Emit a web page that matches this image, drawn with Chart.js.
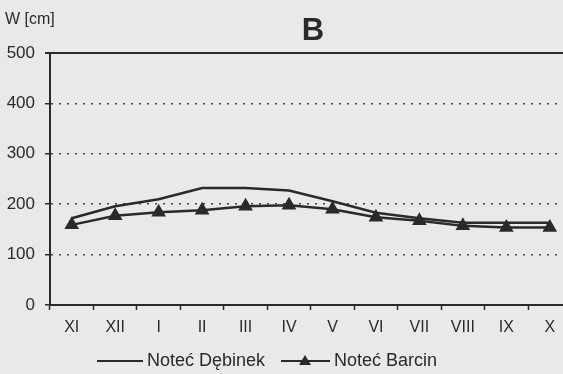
<!DOCTYPE html>
<html>
<head>
<meta charset="utf-8">
<script src="https://cdn.jsdelivr.net/npm/chart.js@4/dist/chart.umd.min.js"></script>
<style>
  html, body { margin: 0; padding: 0; background: #e9e9e9; overflow: hidden; }
  #wrap { width: 563px; height: 374px; overflow: hidden; position: relative; }
</style>
</head>
<body>
<div id="wrap">
  <canvas id="chart" width="580" height="374"></canvas>
</div>
<script>
const months = ['XI', 'XII', 'I', 'II', 'III', 'IV', 'V', 'VI', 'VII', 'VIII', 'IX', 'X']
const debinek = [172, 196, 210, 232, 232, 227, 206, 183, 172, 163, 163, 163]
const barcin = [159, 177, 184, 188, 196, 198, 190, 174, 167, 157, 154, 154]
const yTicks = [0, 100, 200, 300, 400, 500]

const ink = '#2a2a2a'
const fontFamily = '"Liberation Sans", Arial, sans-serif'

// extra text and frame pieces the stock options can't do
const decorations = {
  id: 'decorations',
  afterDraw(chart) {
    const { ctx, chartArea } = chart
    ctx.save()
    // solid top line at 500
    ctx.strokeStyle = ink
    ctx.lineWidth = 2
    ctx.beginPath()
    ctx.moveTo(chartArea.left - 5, chartArea.top)
    ctx.lineTo(chartArea.right, chartArea.top)
    ctx.stroke()

    ctx.fillStyle = ink
    ctx.textBaseline = 'middle'
    ctx.font = '16px ' + fontFamily
    ctx.fillText('W [cm]', 5, 20)

    ctx.font = 'bold 31px ' + fontFamily
    ctx.textAlign = 'center'
    ctx.fillText('B', 313, 31)

    // legend
    const ly = 361
    ctx.textAlign = 'left'
    ctx.font = '18px ' + fontFamily
    ctx.lineWidth = 2
    ctx.beginPath()
    ctx.moveTo(97, ly)
    ctx.lineTo(143, ly)
    ctx.stroke()
    ctx.fillText('Noteć Dębinek', 147, ly)

    ctx.beginPath()
    ctx.moveTo(281, ly)
    ctx.lineTo(330, ly)
    ctx.stroke()
    ctx.beginPath()
    ctx.moveTo(305, ly - 6)
    ctx.lineTo(311, ly + 4)
    ctx.lineTo(299, ly + 4)
    ctx.closePath()
    ctx.fill()
    ctx.fillText('Noteć Barcin', 334, ly)
    ctx.restore()
  },
}

new Chart(document.getElementById('chart'), {
  type: 'line',
  data: {
    labels: months,
    datasets: [
      {
        label: 'Noteć Dębinek',
        data: debinek,
        borderColor: ink,
        borderWidth: 2.5,
        pointRadius: 0,
        tension: 0,
      },
      {
        label: 'Noteć Barcin',
        data: barcin,
        borderColor: ink,
        backgroundColor: ink,
        borderWidth: 2.5,
        pointStyle: 'triangle',
        pointRadius: 6,
        pointBackgroundColor: ink,
        pointBorderColor: ink,
        tension: 0,
      },
    ],
  },
  options: {
    responsive: false,
    animation: false,
    layout: { padding: { top: 53, right: 2, left: 0, bottom: 0 } },
    plugins: {
      legend: { display: false },
      title: { display: false },
      tooltip: { enabled: false },
    },
    scales: {
      x: {
        offset: true,
        afterFit(scale) {
          scale.height = 69
        },
        grid: {
          offset: true,
          drawOnChartArea: false,
          tickLength: 5,
          tickColor: ink,
          tickWidth: 1.5,
        },
        border: { color: ink, width: 2 },
        ticks: {
          color: ink,
          padding: 8,
          maxRotation: 0,
          font: { size: 16, family: fontFamily },
        },
      },
      y: {
        min: 0,
        max: 500,
        afterFit(scale) {
          scale.width = 50
        },
        afterBuildTicks(scale) {
          scale.ticks = yTicks.map(v => ({ value: v }))
        },
        grid: {
          color: '#444',
          lineWidth: 1.5,
          tickLength: 5,
          tickColor: ink,
          tickWidth: 1.5,
          tickBorderDash: [],
        },
        border: { color: ink, width: 2, dash: [2, 6] },
        ticks: {
          color: ink,
          padding: 10,
          font: { size: 17, family: fontFamily },
        },
      },
    },
  },
  plugins: [decorations],
})
</script>
</body>
</html>
